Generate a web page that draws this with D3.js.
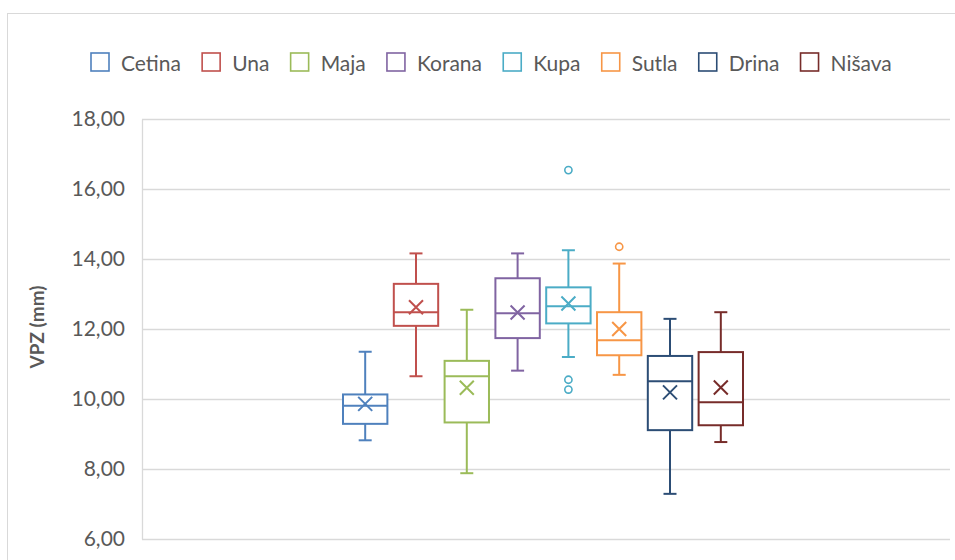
<!DOCTYPE html>
<html>
<head>
<meta charset="utf-8">
<script src="https://cdn.jsdelivr.net/npm/d3@7"></script>
<style>
  body { margin: 0; background: #fff; }
  svg { display: block; }
  text { font-family: Lato, "Open Sans", sans-serif; fill: #595959; }
</style>
</head>
<body>
<div id="chart"></div>
<script>
// data (VPZ in mm)
var series = ["Cetina", "Una", "Maja", "Korana", "Kupa", "Sutla", "Drina", "Nišava"];
var colors = ["#4F81BD", "#C0504D", "#9BBB59", "#8064A2", "#4BACC6", "#F79646", "#2C4D75", "#772C2A"];
var whiskerLow  = [8.82, 10.65, 7.88, 10.81, 11.20, 10.69, 7.29, 8.77];
var q1          = [9.29, 12.09, 9.33, 11.74, 12.16, 11.25, 9.11, 9.25];
var median      = [9.81, 12.48, 10.65, 12.45, 12.65, 11.68, 10.51, 9.91];
var q3          = [10.13, 13.29, 11.09, 13.45, 13.19, 12.48, 11.23, 11.34];
var whiskerHigh = [11.35, 14.16, 12.55, 14.16, 14.25, 13.87, 12.29, 12.48];
var means       = [9.86, 12.62, 10.32, 12.47, 12.73, 12.00, 10.19, 10.33];
var outliers    = [[], [], [], [], [16.54, 10.55, 10.27], [14.35], [], []];
var yTicks = [6, 8, 10, 12, 14, 16, 18];
var yTitle = "VPZ (mm)";

var W = 955, H = 560;
var plot = {left: 142, right: 950, top: 119, bottom: 539};

var svg = d3.select("#chart").append("svg")
    .attr("width", W)
    .attr("height", H);

// chart frame
svg.append("rect")
    .attr("x", 7.5).attr("y", 13.5)
    .attr("width", W + 20).attr("height", H + 20)
    .attr("fill", "#fff")
    .attr("stroke", "#D9D9D9");

var y = d3.scaleLinear()
    .domain([6, 18])
    .range([plot.bottom, plot.top]);

var x = d3.scaleBand()
    .domain(series)
    .range([342, 744])
    .paddingInner(0.087)
    .paddingOuter(0);

var fmt = function(d) { return d3.format(".2f")(d).replace(".", ","); };

// gridlines
svg.append("g")
  .selectAll("line")
  .data(yTicks)
  .enter().append("line")
    .attr("x1", plot.left).attr("x2", plot.right)
    .attr("y1", function(d) { return Math.round(y(d)) + 0.5; })
    .attr("y2", function(d) { return Math.round(y(d)) + 0.5; })
    .attr("stroke", "#D9D9D9")
    .attr("stroke-width", 1.3);

// y axis
var yAxis = svg.append("g")
    .attr("transform", "translate(" + plot.left + ",0)")
    .call(d3.axisLeft(y).tickValues(yTicks).tickFormat(fmt).tickSize(0).tickPadding(17));
yAxis.select(".domain").attr("stroke", "#D9D9D9").attr("stroke-width", 1.3);
yAxis.selectAll("text")
    .style("font-size", "21px")
    .attr("fill", "#595959");

svg.append("text")
    .attr("transform", "translate(44," + ((plot.top + plot.bottom) / 2 - 2) + ") rotate(-90)")
    .attr("text-anchor", "middle")
    .style("font-size", "19px")
    .style("font-weight", "bold")
    .text(yTitle);

// boxes
var boxes = svg.append("g")
  .selectAll("g")
  .data(series)
  .enter().append("g")
    .attr("stroke", function(d, i) { return colors[i]; })
    .attr("stroke-width", 2)
    .attr("fill", "none");

var cx = function(d) { return x(d) + x.bandwidth() / 2; };
var cap = 6.5;

// whiskers
boxes.append("line")
    .attr("x1", cx).attr("x2", cx)
    .attr("y1", function(d, i) { return y(q3[i]); })
    .attr("y2", function(d, i) { return y(whiskerHigh[i]); });
boxes.append("line")
    .attr("x1", cx).attr("x2", cx)
    .attr("y1", function(d, i) { return y(q1[i]); })
    .attr("y2", function(d, i) { return y(whiskerLow[i]); });
boxes.append("line")
    .attr("x1", function(d) { return cx(d) - cap; })
    .attr("x2", function(d) { return cx(d) + cap; })
    .attr("y1", function(d, i) { return y(whiskerHigh[i]); })
    .attr("y2", function(d, i) { return y(whiskerHigh[i]); });
boxes.append("line")
    .attr("x1", function(d) { return cx(d) - cap; })
    .attr("x2", function(d) { return cx(d) + cap; })
    .attr("y1", function(d, i) { return y(whiskerLow[i]); })
    .attr("y2", function(d, i) { return y(whiskerLow[i]); });

// box
boxes.append("rect")
    .attr("x", function(d) { return x(d) + 1; })
    .attr("width", x.bandwidth() - 2)
    .attr("y", function(d, i) { return y(q3[i]); })
    .attr("height", function(d, i) { return y(q1[i]) - y(q3[i]); })
    .attr("fill", "#fff");

// median
boxes.append("line")
    .attr("x1", function(d) { return x(d) + 1; })
    .attr("x2", function(d) { return x(d) + x.bandwidth() - 1; })
    .attr("y1", function(d, i) { return y(median[i]); })
    .attr("y2", function(d, i) { return y(median[i]); });

// mean marker (x)
var m = 7;
boxes.append("path")
    .attr("d", function(d, i) {
      var px = cx(d), py = y(means[i]);
      return "M" + (px - m) + "," + (py - m) + "L" + (px + m) + "," + (py + m) +
             "M" + (px - m) + "," + (py + m) + "L" + (px + m) + "," + (py - m);
    });

// outliers
boxes.each(function(d, i) {
  d3.select(this).selectAll("circle")
    .data(outliers[i])
    .enter().append("circle")
      .attr("cx", cx(d))
      .attr("cy", function(v) { return y(v); })
      .attr("r", 3.6)
      .attr("stroke-width", 1.6)
      .attr("fill", "#fff");
});

// legend
var legend = svg.append("g").attr("transform", "translate(0,62)");
var lx = 91;
series.forEach(function(s, i) {
  legend.append("rect")
    .attr("x", lx).attr("y", -9)
    .attr("width", 18).attr("height", 18)
    .attr("fill", "#fff")
    .attr("stroke", colors[i])
    .attr("stroke-width", 1.6);
  var t = legend.append("text")
    .attr("x", lx + 30).attr("y", 0)
    .attr("dominant-baseline", "central")
    .style("font-size", "21px")
    .text(s);
  lx += 30 + t.node().getComputedTextLength() + 21.2;
});
</script>
</body>
</html>
